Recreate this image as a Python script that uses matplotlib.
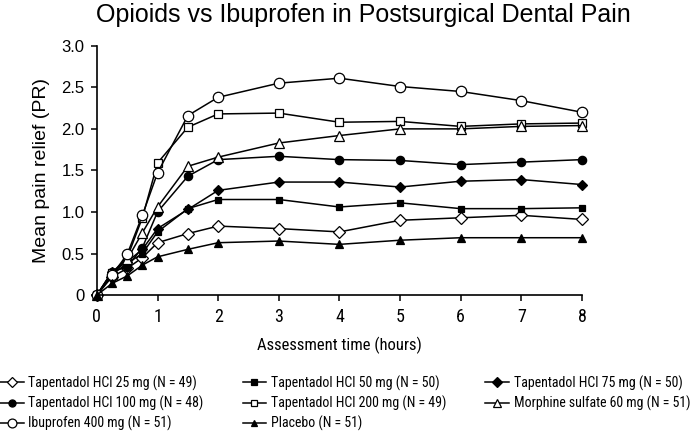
import matplotlib
matplotlib.use("Agg")
import matplotlib.pyplot as plt

# Assessment times (hours) and mean pain relief per treatment group
hours = [0, 0.25, 0.5, 0.75, 1, 1.5, 2, 3, 4, 5, 6, 7, 8]
tap25 = [0, 0.22, 0.32, 0.45, 0.63, 0.74, 0.83, 0.80, 0.76, 0.90, 0.93, 0.96, 0.91]
tap50 = [0, 0.25, 0.38, 0.50, 0.76, 1.04, 1.15, 1.15, 1.06, 1.11, 1.04, 1.04, 1.05]
tap75 = [0, 0.28, 0.40, 0.55, 0.80, 1.03, 1.26, 1.36, 1.36, 1.30, 1.37, 1.39, 1.33]
tap100 = [0, 0.28, 0.34, 0.57, 1.00, 1.43, 1.63, 1.67, 1.63, 1.62, 1.57, 1.60, 1.63]
tap200 = [0, 0.27, 0.45, 0.93, 1.59, 2.02, 2.18, 2.19, 2.08, 2.09, 2.03, 2.06, 2.07]
morphine = [0, 0.25, 0.43, 0.75, 1.06, 1.55, 1.66, 1.83, 1.92, 2.00, 2.00, 2.03, 2.04]
ibuprofen = [0, 0.24, 0.49, 0.96, 1.47, 2.16, 2.38, 2.55, 2.61, 2.51, 2.45, 2.34, 2.20]
placebo = [0, 0.14, 0.23, 0.36, 0.46, 0.55, 0.63, 0.65, 0.61, 0.66, 0.69, 0.69, 0.69]

labels = [
    "Tapentadol HCl 25 mg (N = 49)",
    "Tapentadol HCl 50 mg (N = 50)",
    "Tapentadol HCl 75 mg (N = 50)",
    "Tapentadol HCl 100 mg (N = 48)",
    "Tapentadol HCl 200 mg (N = 49)",
    "Morphine sulfate 60 mg (N = 51)",
    "Ibuprofen 400 mg (N = 51)",
    "Placebo (N = 51)",
]
y_ticks = [0, 0.5, 1.0, 1.5, 2.0, 2.5, 3.0]
y_tick_labels = ["0", "0.5", "1.0", "1.5", "2.0", "2.5", "3.0"]
x_ticks = [0, 1, 2, 3, 4, 5, 6, 7, 8]

REG = ["Liberation Sans", "DejaVu Sans"]
NARROW = ["Nimbus Sans Narrow", "Roboto Condensed", "Archivo Narrow", "DejaVu Sans"]

# marker, face colour, size
styles = [
    ("D", "white", 6.0),
    ("s", "black", 5.0),
    ("D", "black", 5.5),
    ("o", "black", 6.0),
    ("s", "white", 5.5),
    ("^", "white", 6.5),
    ("o", "white", 7.5),
    ("^", "black", 5.5),
]
series = [tap25, tap50, tap75, tap100, tap200, morphine, ibuprofen, placebo]

fig = plt.figure(figsize=(6.92, 4.32), dpi=100)
ax = fig.add_axes([0.140, 0.317, 0.701, 0.577])

handles = []
for vals, lab, (mk, fc, ms) in zip(series, labels, styles):
    h, = ax.plot(hours, vals, color="black", lw=1.1, marker=mk, ms=ms,
                 mfc=fc, mec="black", mew=0.9, clip_on=False, label=lab)
    handles.append(h)

ax.set_xlim(0, 8)
ax.set_ylim(0, 3.0)
ax.set_xticks(x_ticks)
ax.set_yticks(y_ticks)
ax.set_yticklabels(y_tick_labels, family=REG, fontsize=12)
ax.set_xticklabels([str(t) for t in x_ticks], family=NARROW,
                   stretch="condensed", fontsize=13)
for s in ["top", "right"]:
    ax.spines[s].set_visible(False)
for s in ["left", "bottom"]:
    ax.spines[s].set_linewidth(1.2)
ax.tick_params(direction="out", length=4, width=1.1, pad=5)

ax.set_ylabel("Mean pain relief (PR)", family=REG, fontsize=14, labelpad=8)
ax.set_xlabel("Assessment time (hours)", family=NARROW, stretch="condensed",
              fontsize=12, labelpad=8)
fig.text(0.525, 0.965, "Opioids vs Ibuprofen in Postsurgical Dental Pain",
         family=REG, fontsize=18, ha="center", va="center")

# legend filled column-wise: three columns of 3, 3, 2
order = [0, 3, 6, 1, 4, 7, 2, 5]
fig.legend([handles[i] for i in order], [labels[i] for i in order],
           loc="upper left", bbox_to_anchor=(0.0, 0.131), ncol=3,
           frameon=False, borderpad=0, borderaxespad=0,
           handlelength=1.7, handletextpad=0.35, columnspacing=2.8,
           labelspacing=0.36, markerscale=0.85,
           prop={"family": NARROW, "stretch": "condensed", "size": 10})

fig.savefig("out.png", dpi=100)
